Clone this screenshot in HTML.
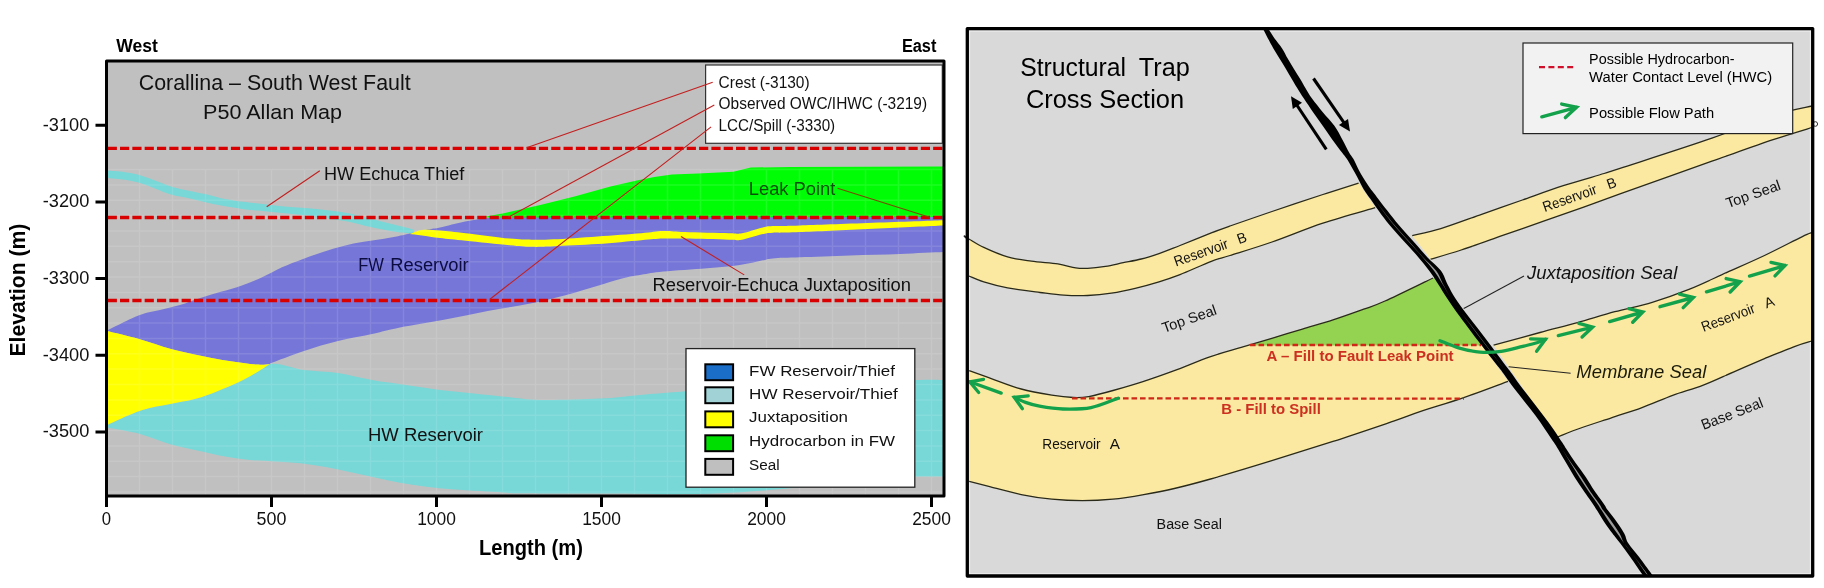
<!DOCTYPE html>
<html><head><meta charset="utf-8"><style>
html,body{margin:0;padding:0;background:#fff;}
svg{display:block;will-change:transform;}
text{font-family:"Liberation Sans",sans-serif;}
</style></head><body>
<svg width="1824" height="588" viewBox="0 0 1824 588">
<rect x="107" y="61" width="836" height="434" fill="#c0c0c0"/>
<path d="M107.0,425.0 C112.6,422.6 130.1,414.1 140.8,410.5 C151.5,406.9 161.2,405.9 171.4,403.7 C181.6,401.4 190.1,400.9 202.0,397.0 C213.9,393.1 231.7,385.5 243.0,380.0 C254.3,374.5 259.8,365.7 270.0,364.0 C280.2,362.3 292.7,368.5 304.0,370.0 C315.3,371.5 326.7,371.3 338.0,373.0 C349.3,374.7 360.7,378.0 372.0,380.0 C383.3,382.0 394.7,383.3 406.0,385.0 C417.3,386.7 428.7,388.6 440.0,390.0 C451.3,391.4 462.7,392.3 474.0,393.5 C485.3,394.7 497.0,395.9 508.0,397.0 C519.0,398.1 524.7,399.7 540.0,400.0 C555.3,400.3 583.3,399.4 600.0,398.6 C616.7,397.8 625.0,396.3 640.0,395.0 C655.0,393.7 663.3,392.8 690.0,391.0 C716.7,389.2 762.5,385.8 800.0,384.0 C837.5,382.2 891.2,380.7 915.0,380.0 C938.8,379.3 938.3,380.0 943.0,380.0 L943.0,476.6 C937.5,476.7 923.8,476.1 910.0,477.0 C896.2,477.9 891.7,479.3 860.0,482.0 C828.3,484.7 763.3,491.4 720.0,493.3 C676.7,495.2 633.3,493.5 600.0,493.5 C566.7,493.5 536.2,493.5 520.0,493.3 C503.8,493.1 509.5,492.9 502.8,492.5 C496.1,492.1 488.5,491.7 480.0,491.1 C471.5,490.6 460.7,489.9 451.8,489.2 C442.9,488.5 434.9,487.8 426.5,486.7 C418.1,485.6 409.7,484.4 401.3,482.9 C392.9,481.4 384.5,479.6 376.1,477.8 C367.7,476.0 359.3,474.0 350.9,472.2 C342.5,470.4 334.1,468.6 325.7,467.1 C317.3,465.6 308.8,464.2 300.4,463.3 C292.0,462.4 283.6,461.9 275.2,461.4 C266.8,460.8 258.4,460.8 250.0,460.0 C241.6,459.2 233.0,457.9 225.0,456.5 C217.0,455.1 211.0,453.5 202.0,451.5 C193.0,449.5 181.3,447.5 171.0,444.6 C160.7,441.7 150.7,436.8 140.0,434.0 C129.3,431.2 112.5,428.7 107.0,427.6 Z" fill="#78d7d7"/>
<path d="M107.0,170.6 C110.0,170.9 119.5,171.4 125.0,172.2 C130.5,173.0 135.0,173.8 140.0,175.2 C145.0,176.6 149.8,178.5 155.0,180.4 C160.2,182.3 165.2,184.6 171.0,186.4 C176.8,188.2 183.5,189.6 190.0,191.1 C196.5,192.6 204.2,193.9 210.0,195.2 C215.8,196.5 219.0,197.8 225.0,199.0 C231.0,200.2 238.9,201.2 245.8,202.1 C252.8,203.0 259.8,203.8 266.7,204.6 C273.6,205.4 280.6,206.1 287.5,206.7 C294.4,207.3 301.4,207.7 308.3,208.3 C315.2,208.9 322.2,209.5 329.2,210.4 C336.1,211.3 343.1,212.1 350.0,213.5 C356.9,214.9 363.9,217.1 370.8,218.8 C377.8,220.6 385.4,222.4 391.7,224.0 C397.9,225.6 404.6,227.1 408.3,228.1 C412.0,229.1 413.1,229.7 414.0,230.0 L414.0,234.5 C413.1,234.3 412.0,233.8 408.3,233.3 C404.6,232.8 397.9,232.3 391.7,231.3 C385.4,230.3 377.8,228.7 370.8,227.1 C363.9,225.5 356.9,223.3 350.0,221.9 C343.1,220.5 336.1,219.9 329.2,218.8 C322.2,217.8 315.2,216.5 308.3,215.6 C301.4,214.7 294.4,214.2 287.5,213.5 C280.6,212.8 273.6,212.2 266.7,211.5 C259.8,210.8 252.8,210.3 245.8,209.4 C238.9,208.5 231.0,207.3 225.0,206.3 C219.0,205.3 215.8,204.6 210.0,203.3 C204.2,202.0 196.5,200.1 190.0,198.6 C183.5,197.1 176.8,196.3 171.0,194.6 C165.2,192.9 160.2,190.3 155.0,188.4 C149.8,186.5 145.0,184.4 140.0,183.0 C135.0,181.6 130.5,180.6 125.0,179.8 C119.5,179.0 110.0,178.3 107.0,178.0 Z" fill="#78d7d7"/>
<path d="M107.0,330.6 C112.3,328.1 130.2,318.7 139.0,315.3 C147.8,311.9 153.2,311.7 160.0,310.0 C166.8,308.3 173.3,307.1 180.0,305.1 C186.7,303.1 193.6,300.2 200.4,298.0 C207.2,295.8 214.0,293.9 220.8,291.8 C227.6,289.8 234.4,288.1 241.2,285.7 C248.0,283.3 254.8,280.7 261.6,277.6 C268.4,274.5 275.2,270.4 282.0,267.3 C288.8,264.2 295.6,261.8 302.4,259.2 C309.2,256.6 316.1,254.2 322.9,252.0 C329.7,249.8 336.5,247.6 343.3,245.9 C350.1,244.2 356.9,243.0 363.7,241.8 C370.5,240.6 377.3,240.0 384.1,238.8 C390.9,237.6 400.2,235.6 404.5,234.7 C408.8,233.8 406.1,234.4 410.0,233.5 C413.9,232.6 423.0,230.5 428.0,229.5 C433.0,228.5 433.8,228.8 440.0,227.5 C446.2,226.2 457.2,223.1 465.0,221.5 C472.8,219.9 481.2,218.8 487.0,218.0 C492.8,217.2 497.8,217.2 500.0,217.0 L943,217 L943,252.1L943.0,252.1 C935.8,252.4 915.5,253.4 900.0,254.0 C884.5,254.6 866.7,254.9 850.0,255.5 C833.3,256.1 812.9,256.8 800.0,257.3 C787.1,257.8 779.2,257.8 772.8,258.4 C766.4,258.9 767.3,259.5 761.8,260.6 C756.3,261.7 749.0,263.7 739.9,265.0 C730.8,266.3 719.8,267.1 707.0,268.2 C694.2,269.3 674.2,270.4 663.2,271.5 C652.2,272.6 648.5,273.5 641.2,274.8 C633.9,276.1 630.3,276.3 619.3,279.2 C608.3,282.1 590.0,288.4 575.4,292.4 C560.8,296.4 546.2,300.2 531.6,303.3 C517.0,306.4 502.3,308.2 487.7,311.0 C473.1,313.8 458.5,317.1 443.9,319.8 C429.3,322.6 412.0,325.1 400.0,327.5 C388.0,329.9 382.3,331.8 372.0,334.0 C361.7,336.2 349.3,338.2 338.0,341.0 C326.7,343.8 315.3,347.2 304.0,351.0 C292.7,354.8 275.7,361.4 270.0,363.5L270.0,364.0 C267.8,364.1 263.3,365.1 256.5,364.6 C249.7,364.1 238.1,362.4 229.0,361.0 C219.9,359.6 211.7,358.0 202.0,356.0 C192.3,354.0 181.5,351.8 171.0,349.0 C160.5,346.2 149.7,342.0 139.0,339.0 C128.3,336.0 112.3,332.3 107.0,331.0 Z" fill="#7676d8"/>
<path d="M107.0,331.0 C112.3,332.3 128.3,336.0 139.0,339.0 C149.7,342.0 160.5,346.2 171.0,349.0 C181.5,351.8 192.3,354.0 202.0,356.0 C211.7,358.0 219.9,359.6 229.0,361.0 C238.1,362.4 249.7,364.1 256.5,364.6 C263.3,365.1 267.8,364.1 270.0,364.0L270.0,364.0 C265.5,366.7 254.3,374.5 243.0,380.0 C231.7,385.5 213.9,393.1 202.0,397.0 C190.1,400.9 181.6,401.4 171.4,403.7 C161.2,405.9 151.5,406.9 140.8,410.5 C130.1,414.1 112.6,422.6 107.0,425.0 Z" fill="#ffff00"/>
<path d="M409.6,234.0 C411.7,233.3 416.8,230.5 421.9,229.9 C427.0,229.3 432.7,229.9 440.0,230.5 C447.3,231.1 454.2,231.8 465.8,233.2 C477.4,234.5 498.6,237.5 509.6,238.6 C520.6,239.7 524.3,239.6 531.6,239.7 C538.9,239.8 542.5,239.9 553.5,239.3 C564.5,238.8 582.8,237.4 597.4,236.4 C612.0,235.4 630.2,234.1 641.2,233.2 C652.2,232.3 655.9,231.2 663.2,231.0 C670.5,230.8 674.0,231.6 685.0,232.0 C696.0,232.4 719.4,233.0 728.9,233.2 C738.4,233.4 736.5,234.1 742.0,233.2 C747.5,232.3 756.7,228.9 761.8,227.7 C766.9,226.5 766.4,226.5 772.8,226.1 C779.2,225.7 771.6,226.5 800.0,225.5 C828.4,224.5 919.2,221.2 943.0,220.3 L943.0,225.5 C919.2,226.6 828.4,230.9 800.0,232.1 C771.6,233.3 779.2,232.3 772.8,232.7 C766.4,233.1 766.9,233.1 761.8,234.3 C756.7,235.5 747.5,238.8 742.0,239.7 C736.5,240.6 738.4,239.9 728.9,239.7 C719.4,239.5 696.0,238.8 685.0,238.6 C674.0,238.4 670.5,238.3 663.2,238.6 C655.9,238.9 652.2,239.3 641.2,240.2 C630.2,241.1 612.0,243.1 597.4,244.1 C582.8,245.1 564.5,245.9 553.5,246.3 C542.5,246.8 538.9,247.0 531.6,246.8 C524.3,246.6 520.6,246.2 509.6,245.2 C498.6,244.2 477.4,242.0 465.8,240.8 C454.2,239.6 447.3,238.9 440.0,238.0 C432.7,237.1 427.0,236.1 421.9,235.4 C416.8,234.7 411.7,234.2 409.6,234.0 Z" fill="#ffff00"/>
<path d="M479.0,217.5 L485.8,216.5 L505.1,212.9 L540.2,205.0 L575.3,196.2 L610.4,186.6 L636.7,180.4 L654.2,176.9 L671.8,174.6 L698.1,173.4 L733.2,171.7 L750.7,167.6 L790.0,166.9 L943.0,166.6 L943,217 Z" fill="#00fd06"/>
<path d="M139.5,169 V495 M172.5,169 V495 M205.5,169 V495 M238.5,169 V495 M271.5,169 V495 M304.5,169 V495 M337.5,169 V495 M370.5,169 V495 M403.5,169 V495 M436.5,169 V495 M469.5,169 V495 M502.5,169 V495 M535.5,169 V495 M568.5,169 V495 M601.5,169 V495 M634.5,169 V495 M667.5,169 V495 M700.5,169 V495 M733.5,169 V495 M766.5,169 V495 M799.5,169 V495 M832.5,169 V495 M865.5,169 V495 M898.5,169 V495 M931.5,169 V495 M107,169.6 H943 M107,184.9 H943 M107,200.3 H943 M107,215.6 H943 M107,231.0 H943 M107,246.3 H943 M107,261.7 H943 M107,277.1 H943 M107,292.4 H943 M107,307.8 H943 M107,323.1 H943 M107,338.4 H943 M107,353.8 H943 M107,369.1 H943 M107,384.5 H943 M107,399.9 H943 M107,415.2 H943 M107,430.5 H943 M107,445.9 H943 M107,461.2 H943 M107,476.6 H943 M107,491.9 H943" stroke="#ffffff" stroke-opacity="0.11" stroke-width="1.5" fill="none"/>
<line x1="107.7" y1="148.4" x2="943" y2="148.4" stroke="#d80000" stroke-width="3.3" stroke-dasharray="9.2 3.12"/>
<line x1="107.7" y1="217.5" x2="943" y2="217.5" stroke="#d80000" stroke-width="3.3" stroke-dasharray="9.2 3.12"/>
<line x1="107.7" y1="300.5" x2="943" y2="300.5" stroke="#d80000" stroke-width="3.3" stroke-dasharray="9.2 3.12"/>
<rect x="705.6" y="65" width="236.7" height="78.3" fill="#fff" stroke="#333" stroke-width="1.2"/>
<line x1="712.7" y1="82.3" x2="526.6" y2="147.7" stroke="#c41e1e" stroke-width="1.1"/>
<line x1="714.3" y1="105" x2="508.2" y2="217.2" stroke="#c41e1e" stroke-width="1.1"/>
<line x1="711.1" y1="126.9" x2="489.9" y2="299.2" stroke="#c41e1e" stroke-width="1.1"/>
<line x1="266.7" y1="206.7" x2="319.8" y2="170.8" stroke="#c41e1e" stroke-width="1.1"/>
<line x1="681" y1="236.5" x2="744.2" y2="274.9" stroke="#c41e1e" stroke-width="1.1"/>
<line x1="837.6" y1="188.2" x2="929.7" y2="217.2" stroke="#7a4a00" stroke-width="1.1"/>
<rect x="686" y="348.6" width="228.8" height="138.6" fill="#fff" stroke="#222" stroke-width="1.3"/>
<rect x="705.3" y="364.3" width="27.8" height="15.9" fill="#1a6ec8" stroke="#000" stroke-width="2"/>
<rect x="705.3" y="387.3" width="27.8" height="15.9" fill="#a0d2d6" stroke="#000" stroke-width="2"/>
<rect x="705.3" y="411.4" width="27.8" height="15.9" fill="#ffff00" stroke="#000" stroke-width="2"/>
<rect x="705.3" y="435.3" width="27.8" height="15.9" fill="#00dd00" stroke="#000" stroke-width="2"/>
<rect x="705.3" y="458.9" width="27.8" height="15.9" fill="#bfbfbf" stroke="#000" stroke-width="2"/>
<rect x="106.5" y="61" width="837.5" height="435" fill="none" stroke="#000" stroke-width="3" stroke-linejoin="round"/>
<path d="M95.5,125.2 H107 M95.5,201.9 H107 M95.5,278.6 H107 M95.5,355.3 H107 M95.5,432.0 H107 M106.5,496 V507 M271.5,496 V507 M436.5,496 V507 M601.5,496 V507 M766.5,496 V507 M931.5,496 V507" stroke="#000" stroke-width="3" fill="none"/>
<text x="116.3" y="52.4" font-size="18" font-weight="bold" fill="#000" textLength="41.6" lengthAdjust="spacingAndGlyphs">West</text>
<text x="901.9" y="52.4" font-size="18" font-weight="bold" fill="#000" textLength="34.5" lengthAdjust="spacingAndGlyphs">East</text>
<text x="138.7" y="89.6" font-size="21.5" fill="#111" textLength="272" lengthAdjust="spacingAndGlyphs">Corallina &#8211; South West Fault</text>
<text x="203.1" y="119.1" font-size="20.5" fill="#111" textLength="139" lengthAdjust="spacingAndGlyphs">P50 Allan Map</text>
<text x="324" y="179.6" font-size="17.5" fill="#111" textLength="140.3" lengthAdjust="spacingAndGlyphs">HW Echuca Thief</text>
<text x="748.8" y="194.7" font-size="17.5" fill="#0a4f0a" textLength="86.6" lengthAdjust="spacingAndGlyphs">Leak Point</text>
<text x="358.2" y="271.4" font-size="17.5" fill="#0c0c40" textLength="25.7" lengthAdjust="spacingAndGlyphs">FW</text>
<text x="390.3" y="271.4" font-size="17.5" fill="#0c0c40" textLength="78.4" lengthAdjust="spacingAndGlyphs">Reservoir</text>
<text x="652.4" y="291" font-size="17.5" fill="#111" textLength="258.6" lengthAdjust="spacingAndGlyphs">Reservoir-Echuca Juxtaposition</text>
<text x="368" y="441" font-size="17.5" fill="#111" textLength="115" lengthAdjust="spacingAndGlyphs">HW Reservoir</text>
<text x="718.6" y="87.7" font-size="16" fill="#111" textLength="91" lengthAdjust="spacingAndGlyphs">Crest (-3130)</text>
<text x="718.6" y="108.9" font-size="16" fill="#111" textLength="208.5" lengthAdjust="spacingAndGlyphs">Observed OWC/IHWC (-3219)</text>
<text x="718.6" y="130.8" font-size="16" fill="#111" textLength="116.6" lengthAdjust="spacingAndGlyphs">LCC/Spill (-3330)</text>
<text x="749.1" y="375.6" font-size="15.5" fill="#111" textLength="145.9" lengthAdjust="spacingAndGlyphs">FW Reservoir/Thief</text>
<text x="749.1" y="398.6" font-size="15.5" fill="#111" textLength="148.6" lengthAdjust="spacingAndGlyphs">HW Reservoir/Thief</text>
<text x="749.1" y="422.3" font-size="15.5" fill="#111" textLength="98.9" lengthAdjust="spacingAndGlyphs">Juxtaposition</text>
<text x="749.1" y="446.3" font-size="15.5" fill="#111" textLength="145.9" lengthAdjust="spacingAndGlyphs">Hydrocarbon in FW</text>
<text x="749.1" y="469.8" font-size="15.5" fill="#111" textLength="30.6" lengthAdjust="spacingAndGlyphs">Seal</text>
<text x="89.3" y="130.6" font-size="19" text-anchor="end" fill="#111" textLength="46.5" lengthAdjust="spacingAndGlyphs">-3100</text>
<text x="89.3" y="207.3" font-size="19" text-anchor="end" fill="#111" textLength="46.5" lengthAdjust="spacingAndGlyphs">-3200</text>
<text x="89.3" y="284.0" font-size="19" text-anchor="end" fill="#111" textLength="46.5" lengthAdjust="spacingAndGlyphs">-3300</text>
<text x="89.3" y="360.7" font-size="19" text-anchor="end" fill="#111" textLength="46.5" lengthAdjust="spacingAndGlyphs">-3400</text>
<text x="89.3" y="437.4" font-size="19" text-anchor="end" fill="#111" textLength="46.5" lengthAdjust="spacingAndGlyphs">-3500</text>
<text x="106.5" y="524.7" font-size="19" text-anchor="middle" fill="#111" textLength="9.3" lengthAdjust="spacingAndGlyphs">0</text>
<text x="271.5" y="524.7" font-size="19" text-anchor="middle" fill="#111" textLength="29.8" lengthAdjust="spacingAndGlyphs">500</text>
<text x="436.5" y="524.7" font-size="19" text-anchor="middle" fill="#111" textLength="38.7" lengthAdjust="spacingAndGlyphs">1000</text>
<text x="601.5" y="524.7" font-size="19" text-anchor="middle" fill="#111" textLength="38.7" lengthAdjust="spacingAndGlyphs">1500</text>
<text x="766.5" y="524.7" font-size="19" text-anchor="middle" fill="#111" textLength="38.7" lengthAdjust="spacingAndGlyphs">2000</text>
<text x="931.5" y="524.7" font-size="19" text-anchor="middle" fill="#111" textLength="38.7" lengthAdjust="spacingAndGlyphs">2500</text>
<text x="478.9" y="555.1" font-size="21.5" font-weight="bold" fill="#000" textLength="104" lengthAdjust="spacingAndGlyphs">Length (m)</text>
<text transform="translate(25,356.6) rotate(-90)" x="0" y="0" font-size="21.5" font-weight="bold" fill="#000" textLength="133" lengthAdjust="spacingAndGlyphs">Elevation (m)</text>
<rect x="967.3" y="28.6" width="845.4" height="547.4" fill="#d9d9d9"/>
<rect x="969.6" y="31.1" width="840.8" height="542.6" fill="none" stroke="#ececec" stroke-width="1.2"/>
<path d="M969.0,239.0 C971.5,240.4 977.4,244.4 983.8,247.4 C990.2,250.4 999.7,254.6 1007.6,256.9 C1015.5,259.2 1023.0,260.0 1031.4,261.2 C1039.8,262.4 1050.5,262.8 1057.9,263.9 C1065.3,265.0 1070.8,267.2 1075.7,267.9 C1080.7,268.6 1082.6,268.6 1087.6,268.3 C1092.6,268.0 1099.5,267.2 1105.5,266.3 C1111.5,265.4 1117.3,263.9 1123.3,262.7 C1129.2,261.5 1135.2,260.5 1141.2,259.0 C1147.2,257.5 1152.5,255.8 1159.0,253.6 C1165.5,251.3 1171.3,248.9 1180.0,245.5 C1188.7,242.1 1203.0,236.2 1211.3,232.9 C1219.6,229.7 1219.9,229.6 1230.0,226.0 C1240.1,222.4 1256.5,216.8 1272.0,211.5 C1287.5,206.2 1308.5,199.2 1322.9,194.5 C1337.3,189.8 1352.6,185.0 1358.6,183.1 L1375.2,207.6 C1366.5,210.2 1340.1,217.4 1322.9,223.1 C1305.7,228.8 1287.5,236.6 1272.0,242.0 C1256.5,247.4 1240.1,252.3 1230.0,255.5 C1219.9,258.7 1219.6,258.1 1211.3,261.3 C1203.0,264.5 1188.7,271.2 1180.0,274.6 C1171.3,278.0 1166.5,279.5 1159.0,281.8 C1151.5,284.1 1143.1,286.4 1135.2,288.3 C1127.3,290.2 1119.3,291.9 1111.4,293.1 C1103.5,294.3 1095.5,295.1 1087.6,295.5 C1079.7,295.9 1071.7,295.7 1063.8,295.2 C1055.9,294.7 1049.4,293.7 1040.0,292.5 C1030.6,291.3 1017.0,289.7 1007.6,287.9 C998.2,286.1 990.2,283.9 983.8,281.9 C977.4,279.9 971.5,277.0 969.0,276.0 Z" fill="#fbe9a1" stroke="none"/>
<path d="M969.0,239.0 C971.5,240.4 977.4,244.4 983.8,247.4 C990.2,250.4 999.7,254.6 1007.6,256.9 C1015.5,259.2 1023.0,260.0 1031.4,261.2 C1039.8,262.4 1050.5,262.8 1057.9,263.9 C1065.3,265.0 1070.8,267.2 1075.7,267.9 C1080.7,268.6 1082.6,268.6 1087.6,268.3 C1092.6,268.0 1099.5,267.2 1105.5,266.3 C1111.5,265.4 1117.3,263.9 1123.3,262.7 C1129.2,261.5 1135.2,260.5 1141.2,259.0 C1147.2,257.5 1152.5,255.8 1159.0,253.6 C1165.5,251.3 1171.3,248.9 1180.0,245.5 C1188.7,242.1 1203.0,236.2 1211.3,232.9 C1219.6,229.7 1219.9,229.6 1230.0,226.0 C1240.1,222.4 1256.5,216.8 1272.0,211.5 C1287.5,206.2 1308.5,199.2 1322.9,194.5 C1337.3,189.8 1352.6,185.0 1358.6,183.1" fill="none" stroke="#2a2a1a" stroke-width="1.3"/>
<path d="M1375.2,207.6 C1366.5,210.2 1340.1,217.4 1322.9,223.1 C1305.7,228.8 1287.5,236.6 1272.0,242.0 C1256.5,247.4 1240.1,252.3 1230.0,255.5 C1219.9,258.7 1219.6,258.1 1211.3,261.3 C1203.0,264.5 1188.7,271.2 1180.0,274.6 C1171.3,278.0 1166.5,279.5 1159.0,281.8 C1151.5,284.1 1143.1,286.4 1135.2,288.3 C1127.3,290.2 1119.3,291.9 1111.4,293.1 C1103.5,294.3 1095.5,295.1 1087.6,295.5 C1079.7,295.9 1071.7,295.7 1063.8,295.2 C1055.9,294.7 1049.4,293.7 1040.0,292.5 C1030.6,291.3 1017.0,289.7 1007.6,287.9 C998.2,286.1 990.2,283.9 983.8,281.9 C977.4,279.9 971.5,277.0 969.0,276.0" fill="none" stroke="#2a2a1a" stroke-width="1.3"/>
<path d="M1412.2,235.7 C1417.0,234.5 1429.2,232.2 1440.8,228.6 C1452.4,225.0 1468.0,219.1 1481.6,214.3 C1495.2,209.5 1508.8,204.8 1522.4,200.0 C1536.0,195.2 1549.7,190.1 1563.3,185.7 C1576.9,181.3 1594.6,176.4 1604.1,173.5 C1613.5,170.6 1602.0,174.3 1620.0,168.4 C1638.0,162.5 1686.4,147.1 1711.9,138.2 C1737.4,129.3 1756.4,120.6 1773.1,115.2 C1789.8,109.8 1805.5,107.5 1812.0,106.0 L1812.0,127.5 C1805.5,129.5 1789.8,134.1 1773.1,139.7 C1756.4,145.3 1737.4,152.2 1711.9,161.2 C1686.4,170.2 1641.4,186.2 1620.0,193.9 C1598.6,201.6 1596.5,202.5 1583.7,207.1 C1570.9,211.7 1556.5,216.6 1542.9,221.4 C1529.3,226.2 1515.6,230.9 1502.0,235.7 C1488.4,240.5 1473.1,246.1 1461.2,250.0 C1449.3,253.9 1435.7,257.7 1430.6,259.2 Z" fill="#fbe9a1"/>
<path d="M1412.2,235.7 C1417.0,234.5 1429.2,232.2 1440.8,228.6 C1452.4,225.0 1468.0,219.1 1481.6,214.3 C1495.2,209.5 1508.8,204.8 1522.4,200.0 C1536.0,195.2 1549.7,190.1 1563.3,185.7 C1576.9,181.3 1594.6,176.4 1604.1,173.5 C1613.5,170.6 1602.0,174.3 1620.0,168.4 C1638.0,162.5 1686.4,147.1 1711.9,138.2 C1737.4,129.3 1756.4,120.6 1773.1,115.2 C1789.8,109.8 1805.5,107.5 1812.0,106.0" fill="none" stroke="#2a2a1a" stroke-width="1.3"/>
<path d="M1812.0,127.5 C1805.5,129.5 1789.8,134.1 1773.1,139.7 C1756.4,145.3 1737.4,152.2 1711.9,161.2 C1686.4,170.2 1641.4,186.2 1620.0,193.9 C1598.6,201.6 1596.5,202.5 1583.7,207.1 C1570.9,211.7 1556.5,216.6 1542.9,221.4 C1529.3,226.2 1515.6,230.9 1502.0,235.7 C1488.4,240.5 1473.1,246.1 1461.2,250.0 C1449.3,253.9 1435.7,257.7 1430.6,259.2" fill="none" stroke="#2a2a1a" stroke-width="1.3"/>
<path d="M969.2,370.6 C972.8,371.9 981.9,375.2 990.6,378.3 C999.3,381.4 1011.0,386.2 1021.2,389.0 C1031.4,391.8 1043.1,393.7 1051.8,395.1 C1060.5,396.5 1067.2,397.2 1073.3,397.5 C1079.4,397.8 1082.0,397.8 1088.6,396.6 C1095.2,395.4 1103.8,393.1 1113.0,390.5 C1122.2,387.9 1133.5,384.6 1143.7,381.3 C1153.9,378.0 1163.2,374.7 1174.3,370.6 C1185.4,366.5 1199.4,360.5 1210.6,356.6 C1221.8,352.7 1231.0,350.4 1241.2,347.4 C1251.4,344.3 1261.6,341.4 1271.8,338.3 C1282.0,335.2 1292.2,332.2 1302.4,329.1 C1312.6,326.0 1322.8,323.2 1333.0,319.9 C1343.2,316.6 1355.0,312.3 1363.7,309.2 C1372.4,306.1 1373.5,306.2 1385.0,301.0 C1396.5,295.8 1425.0,281.8 1433.0,278.0 L1508,381.3 L1508.0,381.3 C1500.6,384.0 1478.4,392.5 1463.7,397.6 C1449.0,402.7 1431.6,407.8 1420.0,411.7 C1408.4,415.6 1408.8,415.9 1394.3,420.9 C1379.8,425.8 1353.4,434.8 1333.0,441.4 C1312.6,448.0 1292.2,454.4 1271.8,460.7 C1251.4,467.0 1226.8,474.4 1210.6,479.0 C1194.3,483.6 1185.4,485.9 1174.3,488.5 C1163.2,491.1 1153.9,492.8 1143.7,494.6 C1133.5,496.4 1123.2,498.2 1113.0,499.2 C1102.8,500.2 1092.6,500.7 1082.4,500.7 C1072.2,500.7 1062.0,500.2 1051.8,499.2 C1041.6,498.2 1031.4,496.7 1021.2,494.6 C1011.0,492.6 999.3,489.1 990.6,486.9 C981.9,484.7 972.8,482.3 969.2,481.4 Z" fill="#fbe9a1"/>
<path d="M1252.0,345.0 C1255.3,343.9 1263.4,340.9 1271.8,338.3 C1280.2,335.7 1292.2,332.2 1302.4,329.1 C1312.6,326.0 1322.8,323.2 1333.0,319.9 C1343.2,316.6 1355.0,312.3 1363.7,309.2 C1372.4,306.1 1373.5,306.2 1385.0,301.0 C1396.5,295.8 1425.0,281.8 1433.0,278.0 L1439,278 L1443,284 L1453,299 L1464,314 L1474.5,329 L1484.5,344 L1485,345.5 L1252,345.5 Z" fill="#94d251"/>
<path d="M969.2,370.6 C972.8,371.9 981.9,375.2 990.6,378.3 C999.3,381.4 1011.0,386.2 1021.2,389.0 C1031.4,391.8 1043.1,393.7 1051.8,395.1 C1060.5,396.5 1067.2,397.2 1073.3,397.5 C1079.4,397.8 1082.0,397.8 1088.6,396.6 C1095.2,395.4 1103.8,393.1 1113.0,390.5 C1122.2,387.9 1133.5,384.6 1143.7,381.3 C1153.9,378.0 1163.2,374.7 1174.3,370.6 C1185.4,366.5 1199.4,360.5 1210.6,356.6 C1221.8,352.7 1231.0,350.4 1241.2,347.4 C1251.4,344.3 1261.6,341.4 1271.8,338.3 C1282.0,335.2 1292.2,332.2 1302.4,329.1 C1312.6,326.0 1322.8,323.2 1333.0,319.9 C1343.2,316.6 1355.0,312.3 1363.7,309.2 C1372.4,306.1 1373.5,306.2 1385.0,301.0 C1396.5,295.8 1425.0,281.8 1433.0,278.0" fill="none" stroke="#2a2a1a" stroke-width="1.3"/>
<path d="M1508.0,381.3 C1500.6,384.0 1478.4,392.5 1463.7,397.6 C1449.0,402.7 1431.6,407.8 1420.0,411.7 C1408.4,415.6 1408.8,415.9 1394.3,420.9 C1379.8,425.8 1353.4,434.8 1333.0,441.4 C1312.6,448.0 1292.2,454.4 1271.8,460.7 C1251.4,467.0 1226.8,474.4 1210.6,479.0 C1194.3,483.6 1185.4,485.9 1174.3,488.5 C1163.2,491.1 1153.9,492.8 1143.7,494.6 C1133.5,496.4 1123.2,498.2 1113.0,499.2 C1102.8,500.2 1092.6,500.7 1082.4,500.7 C1072.2,500.7 1062.0,500.2 1051.8,499.2 C1041.6,498.2 1031.4,496.7 1021.2,494.6 C1011.0,492.6 999.3,489.1 990.6,486.9 C981.9,484.7 972.8,482.3 969.2,481.4" fill="none" stroke="#2a2a1a" stroke-width="1.3"/>
<path d="M1493.6,345.2 C1501.3,343.1 1526.0,336.3 1540.0,332.5 C1554.0,328.7 1564.9,326.1 1577.4,322.6 C1589.9,319.1 1602.3,315.1 1614.8,311.7 C1627.3,308.3 1639.7,306.1 1652.2,302.3 C1664.7,298.6 1677.1,294.2 1689.6,289.2 C1702.1,284.2 1714.5,278.0 1727.0,272.4 C1739.5,266.8 1752.0,261.4 1764.5,255.5 C1777.0,249.6 1794.0,240.6 1801.9,236.8 C1809.8,233.0 1810.3,233.2 1812.0,232.5 L1812.0,341.0 C1809.2,341.9 1803.0,343.4 1795.1,346.3 C1787.2,349.2 1774.7,354.4 1764.5,358.6 C1754.3,362.9 1744.1,367.4 1733.9,371.8 C1723.7,376.2 1713.5,381.2 1703.3,385.1 C1693.1,389.0 1682.9,391.6 1672.7,395.3 C1662.5,399.1 1652.2,403.9 1642.0,407.6 C1631.8,411.4 1621.6,414.4 1611.4,417.8 C1601.2,421.2 1589.9,424.8 1580.8,428.0 C1571.7,431.2 1560.6,435.8 1556.6,437.3 Z" fill="#fbe9a1"/>
<path d="M1493.6,345.2 C1501.3,343.1 1526.0,336.3 1540.0,332.5 C1554.0,328.7 1564.9,326.1 1577.4,322.6 C1589.9,319.1 1602.3,315.1 1614.8,311.7 C1627.3,308.3 1639.7,306.1 1652.2,302.3 C1664.7,298.6 1677.1,294.2 1689.6,289.2 C1702.1,284.2 1714.5,278.0 1727.0,272.4 C1739.5,266.8 1752.0,261.4 1764.5,255.5 C1777.0,249.6 1794.0,240.6 1801.9,236.8 C1809.8,233.0 1810.3,233.2 1812.0,232.5" fill="none" stroke="#2a2a1a" stroke-width="1.3"/>
<path d="M1812.0,341.0 C1809.2,341.9 1803.0,343.4 1795.1,346.3 C1787.2,349.2 1774.7,354.4 1764.5,358.6 C1754.3,362.9 1744.1,367.4 1733.9,371.8 C1723.7,376.2 1713.5,381.2 1703.3,385.1 C1693.1,389.0 1682.9,391.6 1672.7,395.3 C1662.5,399.1 1652.2,403.9 1642.0,407.6 C1631.8,411.4 1621.6,414.4 1611.4,417.8 C1601.2,421.2 1589.9,424.8 1580.8,428.0 C1571.7,431.2 1560.6,435.8 1556.6,437.3" fill="none" stroke="#2a2a1a" stroke-width="1.3"/>
<line x1="1250" y1="345" x2="1481" y2="345" stroke="#d02818" stroke-width="2.3" stroke-dasharray="5.6 2.9"/>
<line x1="1072" y1="398.4" x2="1464" y2="398.6" stroke="#d02818" stroke-width="2.3" stroke-dasharray="5.6 2.9"/>
<path d="M1263.0,29.0 C1263.2,29.3 1263.3,29.5 1264.1,31.0 C1264.9,32.5 1266.2,35.3 1267.8,38.2 C1269.4,41.1 1271.5,45.0 1273.4,48.4 C1275.4,51.8 1277.5,55.2 1279.5,58.6 C1281.6,62.0 1283.7,65.4 1285.8,68.8 C1287.8,72.2 1289.9,75.8 1291.8,79.0 C1293.7,82.2 1295.1,84.7 1297.2,88.0 C1299.2,91.3 1301.2,94.6 1303.9,98.6 C1306.5,102.6 1310.0,107.7 1313.1,112.2 C1316.3,116.7 1319.5,121.3 1322.7,125.8 C1325.9,130.3 1328.9,134.9 1332.2,139.4 C1335.5,143.9 1339.8,149.6 1342.4,153.0 C1344.9,156.4 1345.5,156.6 1347.6,160.0 C1349.8,163.4 1352.8,169.1 1355.3,173.6 C1357.8,178.1 1360.6,183.8 1362.5,187.2 C1364.4,190.6 1365.3,191.7 1366.8,194.0 C1368.3,196.3 1369.3,197.4 1371.7,200.8 C1374.1,204.2 1377.9,209.9 1381.3,214.4 C1384.7,218.9 1387.9,223.1 1392.1,228.0 C1396.2,232.9 1401.6,238.7 1406.0,243.6 C1410.4,248.5 1414.5,252.7 1418.3,257.2 C1422.2,261.7 1425.9,266.3 1429.2,270.8 C1432.6,275.3 1435.4,279.9 1438.4,284.4 C1441.3,288.9 1443.7,293.1 1446.9,298.0 C1450.1,302.9 1454.1,308.7 1457.6,313.6 C1461.1,318.5 1464.4,322.7 1467.8,327.2 C1471.2,331.7 1474.5,336.3 1478.0,340.8 C1481.4,345.3 1485.0,349.9 1488.5,354.4 C1492.1,358.9 1496.7,364.6 1499.3,368.0 C1502.0,371.4 1502.1,371.6 1504.5,375.0 C1507.0,378.4 1510.8,384.1 1514.2,388.6 C1517.6,393.1 1521.5,397.7 1525.0,402.2 C1528.6,406.7 1532.3,411.3 1535.6,415.8 C1539.0,420.3 1542.0,424.9 1545.1,429.4 C1548.2,433.9 1552.0,439.6 1554.3,443.0 C1556.5,446.4 1556.6,446.6 1558.6,450.0 C1560.7,453.4 1563.8,459.1 1566.5,463.6 C1569.1,468.1 1571.8,472.7 1574.6,477.2 C1577.5,481.7 1580.5,486.3 1583.6,490.8 C1586.7,495.3 1591.0,501.2 1593.2,504.4 C1595.4,507.6 1595.0,507.1 1596.8,510.0 C1598.6,512.9 1601.5,517.9 1604.2,521.9 C1606.8,525.9 1610.0,530.2 1612.7,533.8 C1615.4,537.4 1617.2,539.3 1620.2,543.3 C1623.2,547.3 1627.1,552.6 1630.6,557.6 C1634.2,562.6 1639.1,569.9 1641.3,573.1 C1643.5,576.3 1643.4,576.4 1643.8,577.0 L1653.4,577.0 C1653.0,576.4 1653.2,576.3 1650.9,573.1 C1648.6,569.9 1643.2,562.6 1639.5,557.6 C1635.7,552.6 1630.8,547.3 1628.3,543.3 C1625.8,539.3 1626.3,537.4 1624.4,533.8 C1622.5,530.2 1619.6,525.9 1616.8,521.9 C1614.0,517.9 1609.8,512.9 1607.7,510.0 C1605.6,507.1 1606.5,507.6 1604.2,504.4 C1602.0,501.2 1597.5,495.3 1594.4,490.8 C1591.4,486.3 1589.0,481.7 1585.9,477.2 C1582.8,472.7 1579.2,468.1 1576.0,463.6 C1572.9,459.1 1569.3,453.4 1567.0,450.0 C1564.8,446.6 1564.8,446.4 1562.6,443.0 C1560.3,439.6 1556.7,433.9 1553.6,429.4 C1550.4,424.9 1546.9,420.3 1543.5,415.8 C1540.1,411.3 1536.7,406.7 1533.2,402.2 C1529.7,397.7 1525.9,393.1 1522.5,388.6 C1519.1,384.1 1515.3,378.4 1512.8,375.0 C1510.4,371.6 1510.2,371.4 1507.6,368.0 C1505.0,364.6 1500.8,358.9 1497.4,354.4 C1494.0,349.9 1490.6,345.3 1487.2,340.8 C1483.8,336.3 1480.4,331.7 1476.9,327.2 C1473.4,322.7 1469.9,318.5 1466.2,313.6 C1462.6,308.7 1458.2,302.9 1455.1,298.0 C1452.0,293.1 1450.0,288.9 1447.6,284.4 C1445.2,279.9 1444.3,275.3 1441.0,270.8 C1437.6,266.3 1431.6,261.7 1427.3,257.2 C1423.1,252.7 1419.6,248.5 1415.3,243.6 C1411.0,238.7 1405.5,232.9 1401.4,228.0 C1397.2,223.1 1393.9,218.9 1390.3,214.4 C1386.7,209.9 1382.2,204.2 1379.6,200.8 C1377.0,197.4 1376.3,196.3 1374.6,194.0 C1372.9,191.7 1371.8,190.6 1369.4,187.2 C1367.1,183.8 1363.2,178.1 1360.7,173.6 C1358.1,169.1 1355.9,163.4 1354.0,160.0 C1352.2,156.6 1351.4,156.4 1349.4,153.0 C1347.5,149.6 1344.8,143.9 1342.3,139.4 C1339.8,134.9 1337.7,130.3 1334.4,125.8 C1331.2,121.3 1326.6,116.7 1322.8,112.2 C1319.1,107.7 1314.9,102.6 1312.0,98.6 C1309.1,94.6 1307.4,91.3 1305.4,88.0 C1303.5,84.7 1302.2,82.2 1300.2,79.0 C1298.3,75.8 1295.8,72.2 1293.8,68.8 C1291.7,65.4 1289.6,62.0 1287.7,58.6 C1285.8,55.2 1284.3,51.8 1282.1,48.4 C1279.9,45.0 1276.5,41.1 1274.4,38.2 C1272.4,35.3 1270.7,32.5 1269.7,31.0 C1268.8,29.5 1268.8,29.3 1268.6,29.0 Z" fill="#000"/>
<path d="M1265.8,29.0 C1266.0,29.3 1266.0,29.5 1266.9,31.0 C1267.8,32.5 1269.3,35.3 1271.1,38.2 C1272.9,41.1 1275.7,45.0 1277.8,48.4 C1279.8,51.8 1281.6,55.2 1283.6,58.6 C1285.6,62.0 1287.7,65.4 1289.8,68.8 C1291.8,72.2 1294.1,75.8 1296.0,79.0 C1297.9,82.2 1299.3,84.7 1301.3,88.0 C1303.3,91.3 1305.2,94.6 1307.9,98.6 C1310.7,102.6 1314.5,107.7 1318.0,112.2 C1321.4,116.7 1325.3,121.3 1328.6,125.8 C1331.8,130.3 1334.4,134.9 1337.3,139.4 C1340.2,143.9 1343.6,149.6 1345.9,153.0 C1348.1,156.4 1348.8,156.6 1350.8,160.0 C1352.9,163.4 1355.5,169.1 1358.0,173.6 C1360.5,178.1 1363.8,183.8 1366.0,187.2 C1368.1,190.6 1369.1,191.7 1370.7,194.0 C1372.3,196.3 1373.1,197.4 1375.6,200.8 C1378.1,204.2 1382.2,209.9 1385.6,214.4 C1389.1,218.9 1392.3,223.1 1396.5,228.0 C1400.6,232.9 1406.1,238.7 1410.4,243.6 C1414.8,248.5 1418.8,252.7 1422.7,257.2 C1426.6,261.7 1430.7,266.3 1434.0,270.8 C1437.3,275.3 1439.9,279.9 1442.8,284.4 C1445.6,288.9 1447.8,293.1 1451.0,298.0 C1454.2,302.9 1458.4,308.7 1461.9,313.6 C1465.4,318.5 1468.8,322.7 1472.2,327.2 C1475.6,331.7 1478.9,336.3 1482.4,340.8 C1485.8,345.3 1489.3,349.9 1492.9,354.4 C1496.4,358.9 1500.8,364.6 1503.5,368.0 C1506.1,371.4 1506.2,371.6 1508.7,375.0 C1511.2,378.4 1515.0,384.1 1518.4,388.6 C1521.8,393.1 1525.6,397.7 1529.1,402.2 C1532.7,406.7 1536.2,411.3 1539.6,415.8 C1542.9,420.3 1546.2,424.9 1549.3,429.4 C1552.5,433.9 1556.2,439.6 1558.4,443.0 C1560.7,446.4 1560.8,446.6 1562.8,450.0 C1564.9,453.4 1568.2,459.1 1570.9,463.6 C1573.7,468.1 1576.4,472.7 1579.3,477.2 C1582.2,481.7 1585.2,486.3 1588.2,490.8 C1591.3,495.3 1595.7,501.2 1597.9,504.4 C1600.1,507.6 1599.6,507.1 1601.5,510.0 C1603.3,512.9 1606.4,517.9 1609.1,521.9 C1611.8,525.9 1614.9,530.2 1617.5,533.8 C1620.0,537.4 1621.3,539.3 1624.2,543.3 C1627.2,547.3 1631.4,552.6 1635.0,557.6 C1638.6,562.6 1643.5,569.9 1645.7,573.1 C1648.0,576.3 1647.8,576.4 1648.2,577.0 L1649.0,577.0 C1648.5,576.4 1648.8,576.3 1646.5,573.1 C1644.2,569.9 1638.8,562.6 1635.1,557.6 C1631.4,552.6 1626.8,547.3 1624.2,543.3 C1621.7,539.3 1621.7,537.4 1619.7,533.8 C1617.6,530.2 1614.7,525.9 1611.9,521.9 C1609.2,517.9 1605.1,512.9 1603.0,510.0 C1601.0,507.1 1601.8,507.6 1599.6,504.4 C1597.4,501.2 1592.8,495.3 1589.8,490.8 C1586.7,486.3 1584.2,481.7 1581.2,477.2 C1578.2,472.7 1574.6,468.1 1571.6,463.6 C1568.5,459.1 1565.0,453.4 1562.8,450.0 C1560.6,446.6 1560.7,446.4 1558.4,443.0 C1556.2,439.6 1552.5,433.9 1549.3,429.4 C1546.2,424.9 1542.9,420.3 1539.6,415.8 C1536.2,411.3 1532.7,406.7 1529.1,402.2 C1525.6,397.7 1521.8,393.1 1518.4,388.6 C1515.0,384.1 1511.2,378.4 1508.7,375.0 C1506.2,371.6 1506.1,371.4 1503.5,368.0 C1500.9,364.6 1496.5,358.9 1493.1,354.4 C1489.6,349.9 1486.2,345.3 1482.8,340.8 C1479.4,336.3 1476.0,331.7 1472.6,327.2 C1469.1,322.7 1465.5,318.5 1461.9,313.6 C1458.3,308.7 1454.2,302.9 1451.0,298.0 C1447.9,293.1 1445.7,288.9 1443.2,284.4 C1440.7,279.9 1439.6,275.3 1436.2,270.8 C1432.8,266.3 1427.2,261.7 1423.0,257.2 C1418.8,252.7 1415.2,248.5 1410.9,243.6 C1406.6,238.7 1401.1,232.9 1397.0,228.0 C1392.8,223.1 1389.5,218.9 1385.9,214.4 C1382.4,209.9 1378.2,204.2 1375.6,200.8 C1373.1,197.4 1372.3,196.3 1370.7,194.0 C1369.1,191.7 1368.1,190.6 1366.0,187.2 C1363.8,183.8 1360.5,178.1 1358.0,173.6 C1355.5,169.1 1352.9,163.4 1350.8,160.0 C1348.8,156.6 1348.1,156.4 1345.9,153.0 C1343.6,149.6 1340.2,143.9 1337.3,139.4 C1334.4,134.9 1331.8,130.3 1328.6,125.8 C1325.3,121.3 1321.4,116.7 1318.0,112.2 C1314.5,107.7 1310.7,102.6 1307.9,98.6 C1305.2,94.6 1303.3,91.3 1301.3,88.0 C1299.3,84.7 1297.9,82.2 1296.0,79.0 C1294.1,75.8 1291.8,72.2 1289.8,68.8 C1287.7,65.4 1285.6,62.0 1283.6,58.6 C1281.6,55.2 1279.8,51.8 1277.8,48.4 C1275.7,45.0 1272.9,41.1 1271.1,38.2 C1269.3,35.3 1267.8,32.5 1266.9,31.0 C1266.0,29.5 1266.0,29.3 1265.8,29.0 Z" fill="#9a9a9a"/>
<line x1="1313.5" y1="78.5" x2="1344.8" y2="123.9" stroke="#000" stroke-width="3.1"/><path d="M1350.0,131.5 L1348.0,118.9 L1338.9,125.1 Z" fill="#000"/>
<line x1="1326.3" y1="149.3" x2="1296.1" y2="104.0" stroke="#000" stroke-width="3.1"/><path d="M1291.0,96.3 L1292.8,108.9 L1302.0,102.8 Z" fill="#000"/>
<path d="M1558.3,335.6 L1592.6,327.2 M1578.8,323.4 L1592.6,327.2 L1582.1,337.0" fill="none" stroke="#13a24b" stroke-width="3.4" stroke-linecap="round" stroke-linejoin="miter"/>
<path d="M1609.6,321.6 L1642.8,312.0 M1628.8,308.7 L1642.8,312.0 L1632.7,322.2" fill="none" stroke="#13a24b" stroke-width="3.4" stroke-linecap="round" stroke-linejoin="miter"/>
<path d="M1660.0,306.7 L1693.4,297.5 M1679.5,294.1 L1693.4,297.5 L1683.2,307.6" fill="none" stroke="#13a24b" stroke-width="3.4" stroke-linecap="round" stroke-linejoin="miter"/>
<path d="M1706.5,291.8 L1740.2,281.7 M1726.2,278.6 L1740.2,281.7 L1730.2,292.0" fill="none" stroke="#13a24b" stroke-width="3.4" stroke-linecap="round" stroke-linejoin="miter"/>
<path d="M1749.5,276.1 L1785.0,265.6 M1771.0,262.4 L1785.0,265.6 L1775.0,275.9" fill="none" stroke="#13a24b" stroke-width="3.4" stroke-linecap="round" stroke-linejoin="miter"/>
<path d="M1440.0,340.7 C1443.1,341.9 1451.8,345.9 1458.5,347.8 C1465.2,349.7 1472.8,351.5 1479.9,352.1 C1487.0,352.7 1494.2,352.3 1501.3,351.4 C1508.4,350.4 1516.8,347.8 1522.7,346.4 C1528.6,345.0 1533.1,344.0 1536.9,342.8 C1540.7,341.6 1544.1,339.9 1545.5,339.3" fill="none" stroke="#13a24b" stroke-width="3.3" stroke-linecap="round"/>
<path d="M1530.5,338.9 L1545.5,339.3 L1536.6,351.3" fill="none" stroke="#13a24b" stroke-width="3.3" stroke-linecap="round" stroke-linejoin="miter"/>
<path d="M1118.1,398.2 C1113.6,399.8 1100.2,405.8 1091.0,407.6 C1081.8,409.4 1071.5,409.2 1062.9,409.0 C1054.3,408.8 1045.7,407.3 1039.5,406.2 C1033.3,405.1 1029.7,403.9 1025.5,402.4 C1021.3,400.9 1016.2,398.1 1014.3,397.3" fill="none" stroke="#13a24b" stroke-width="3.3" stroke-linecap="round"/>
<path d="M1022.4,408.7 L1014.3,397.3 L1028.2,395.9" fill="none" stroke="#13a24b" stroke-width="3.3" stroke-linecap="round" stroke-linejoin="miter"/>
<path d="M1001.2,393.1 L969.8,381.8" fill="none" stroke="#13a24b" stroke-width="3.3" stroke-linecap="round"/>
<path d="M978.7,392.5 L969.8,381.8 L983.5,379.3" fill="none" stroke="#13a24b" stroke-width="3.3" stroke-linecap="round" stroke-linejoin="miter"/>
<line x1="1463.7" y1="308.6" x2="1524" y2="276" stroke="#222" stroke-width="1.1"/>
<line x1="1508.6" y1="366.7" x2="1570.6" y2="373.3" stroke="#222" stroke-width="1.1"/>
<rect x="1523" y="43" width="269.7" height="90.6" fill="#f2f2f2" stroke="#222" stroke-width="1.2"/>
<line x1="1539" y1="67.1" x2="1576" y2="67.1" stroke="#d0102a" stroke-width="2.2" stroke-dasharray="6 3.4"/>
<path d="M1541.8,116.8 L1576.6,107.3 M1561.7,104.1 L1576.6,107.3 L1565.4,117.6" fill="none" stroke="#13a24b" stroke-width="3.4" stroke-linecap="round" stroke-linejoin="miter"/>
<path d="M964.6,236.2 L968.5,239.5" stroke="#222" stroke-width="2" stroke-linecap="round"/>
<circle cx="1815.3" cy="124" r="2.3" fill="none" stroke="#333" stroke-width="1"/>
<rect x="967.3" y="28.6" width="845.4" height="547.4" fill="none" stroke="#000" stroke-width="3.3" stroke-linejoin="round"/>
<text x="1020.2" y="75.6" font-size="25.8" fill="#000" textLength="105.9" lengthAdjust="spacingAndGlyphs">Structural</text>
<text x="1138.8" y="75.6" font-size="25.8" fill="#000" textLength="51" lengthAdjust="spacingAndGlyphs">Trap</text>
<text x="1025.9" y="107.5" font-size="25.8" fill="#000" textLength="158.2" lengthAdjust="spacingAndGlyphs">Cross Section</text>
<text x="1589.1" y="63.6" font-size="14.7" fill="#000" textLength="145.5" lengthAdjust="spacingAndGlyphs">Possible Hydrocarbon-</text>
<text x="1589.1" y="81.8" font-size="14.7" fill="#000" textLength="183" lengthAdjust="spacingAndGlyphs">Water Contact  Level  (HWC)</text>
<text x="1589.1" y="117.5" font-size="14.7" fill="#000" textLength="125" lengthAdjust="spacingAndGlyphs">Possible Flow Path</text>
<text x="1042.3" y="448.8" font-size="15" fill="#111" textLength="58.3" lengthAdjust="spacingAndGlyphs">Reservoir</text>
<text x="1109.7" y="448.8" font-size="15" fill="#111" textLength="10.2" lengthAdjust="spacingAndGlyphs">A</text>
<text x="1156.6" y="528.7" font-size="15.5" fill="#111" textLength="65.3" lengthAdjust="spacingAndGlyphs">Base Seal</text>
<g transform="translate(1176.1,266.6) rotate(-19.5)"><text x="0" y="0" font-size="14.5" fill="#111" textLength="56.4" lengthAdjust="spacingAndGlyphs">Reservoir</text><text x="66.8" y="0" font-size="14.5" fill="#111" textLength="9.4" lengthAdjust="spacingAndGlyphs">B</text></g>
<g transform="translate(1544.8,212.1) rotate(-19.5)"><text x="0" y="0" font-size="14.5" fill="#111" textLength="56.2" lengthAdjust="spacingAndGlyphs">Reservoir</text><text x="67.8" y="0" font-size="14.5" fill="#111" textLength="9.4" lengthAdjust="spacingAndGlyphs">B</text></g>
<g transform="translate(1703.5,332.1) rotate(-20.6)"><text x="0" y="0" font-size="14.5" fill="#111" textLength="56.3" lengthAdjust="spacingAndGlyphs">Reservoir</text><text x="67.4" y="0" font-size="14.5" fill="#111" textLength="9.6" lengthAdjust="spacingAndGlyphs">A</text></g>
<text transform="translate(1163.9,333) rotate(-19.5)" font-size="14.5" fill="#111" textLength="57" lengthAdjust="spacingAndGlyphs">Top Seal</text>
<text transform="translate(1727.9,208.2) rotate(-19.5)" font-size="14.5" fill="#111" textLength="57" lengthAdjust="spacingAndGlyphs">Top Seal</text>
<text transform="translate(1703.5,430.1) rotate(-21.2)" font-size="14.8" fill="#111" textLength="65" lengthAdjust="spacingAndGlyphs">Base Seal</text>
<text x="1526.9" y="278.7" font-size="18" font-style="italic" fill="#111" textLength="150.4" lengthAdjust="spacingAndGlyphs">Juxtaposition Seal</text>
<text x="1576.3" y="378.4" font-size="18" font-style="italic" fill="#1a1a0a" textLength="130" lengthAdjust="spacingAndGlyphs">Membrane Seal</text>
<text x="1266.6" y="360.5" font-size="14.5" font-weight="bold" fill="#cc3020" textLength="187" lengthAdjust="spacingAndGlyphs">A &#8211; Fill to Fault Leak Point</text>
<text x="1221.3" y="413.9" font-size="14.5" font-weight="bold" fill="#cc3020" textLength="99.5" lengthAdjust="spacingAndGlyphs">B - Fill to Spill</text>
</svg>
</body></html>
